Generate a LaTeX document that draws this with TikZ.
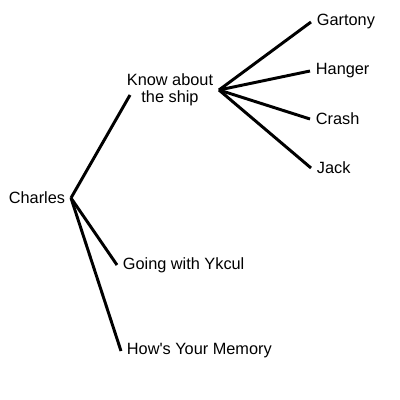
\documentclass[tikz,border=0pt]{standalone}
\usepackage{fontspec}
\setmainfont{Liberation Sans}
\usepackage{tikz}
\usetikzlibrary{positioning, calc}

\begin{document}
\begin{tikzpicture}[
  x=0.025cm, y=-0.025cm,
  topic/.style={inner xsep=4pt, inner ysep=1pt, font=\fontsize{11.6}{12.2}\selectfont, align=center},
  branch/.style={line width=2.1pt, black}
]
\useasboundingbox (0,0) rectangle (400,400);

% Root
\node[topic, anchor=east] (charles) at (71,198) {Charles};

% Level 1
\node[topic] (ship) at (170,90) {Know about\\the ship};
\node[topic, anchor=west] (ykcul) at (117,265) {Going with Ykcul};
\node[topic, anchor=west] (memory) at (121,351) {How\textquotesingle s Your Memory};

% Level 2
\node[topic, anchor=west] (gartony) at (311,22) {Gartony};
\node[topic, anchor=west] (hanger) at (310,71) {Hanger};
\node[topic, anchor=west] (crash) at (310,119) {Crash};
\node[topic, anchor=west] (jack) at (311,168) {Jack};

% Branches
\draw[branch] (charles.east) -- ([shift={(9,5)}]ship.west);
\draw[branch] (charles.east) -- (ykcul.west);
\draw[branch] (charles.east) -- (memory.west);
\draw[branch] (ship.east) -- (gartony.west);
\draw[branch] (ship.east) -- (hanger.west);
\draw[branch] (ship.east) -- (crash.west);
\draw[branch] (ship.east) -- (jack.west);

\end{tikzpicture}
\end{document}
